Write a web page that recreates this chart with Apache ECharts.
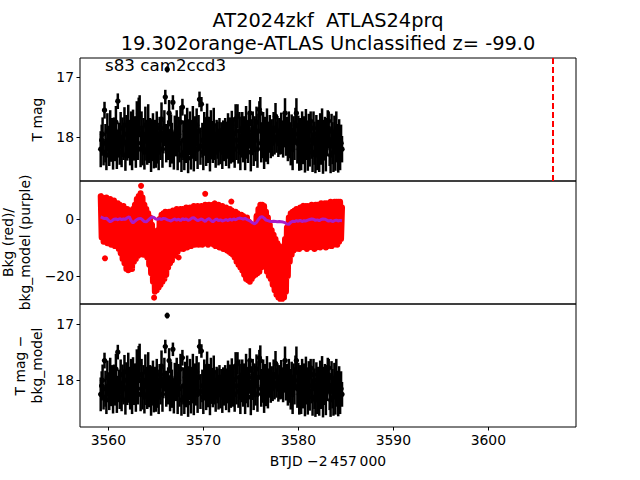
<!DOCTYPE html>
<html><head><meta charset="utf-8">
<script src="https://cdn.jsdelivr.net/npm/echarts@6/dist/echarts.min.js"></script>
<style>html,body{margin:0;padding:0;background:#fff}#c{width:640px;height:480px}</style>
</head><body><div id="c"></div>
<script>
// ---- data ----
const t0 = 3559.2, dt = 0.1;          // photometry cadence (days)
const modelT0 = 3559.2, modelDt = 0.2; // background-model cadence (days)
const discoveryT = 3606.78;
const xTicks = [3560, 3570, 3580, 3590, 3600];
const magTicks = [17, 18];
const bkgTicks = [-20, 0];

const magTop = [
18.20,18.05,17.95,18.25,17.55,18.10,18.30,17.90,18.05,18.20,
17.85,18.15,18.00,18.30,17.95,18.10,17.75,18.20,17.40,18.05,
18.15,17.85,18.25,18.00,18.10,17.80,18.30,17.95,18.15,17.75,
18.05,18.20,17.90,18.30,17.85,18.10,18.00,18.25,17.70,18.10,
17.60,17.65,18.20,17.85,18.15,17.95,18.25,17.80,18.05,18.20,
17.75,18.10,17.95,18.30,18.05,17.90,18.20,18.00,18.15,17.85,
18.10,18.25,17.95,18.05,17.70,18.20,18.00,17.85,17.33,18.10,
16.87,18.05,17.60,18.20,17.90,18.10,17.42,18.25,17.95,18.05,
17.85,18.20,17.95,18.10,17.75,18.30,17.50,18.05,18.25,17.90,
18.10,17.80,18.35,18.00,17.85,18.20,18.05,17.75,18.25,17.95,
18.10,17.80,18.20,17.90,17.37,18.15,17.45,18.05,18.25,17.85,
18.00,18.20,17.70,18.10,17.95,18.30,17.85,18.05,18.15,17.80,
18.10,18.25,17.95,18.05,18.20,17.90,18.15,18.00,18.25,17.95,
18.10,17.90,18.20,18.05,17.85,18.25,18.00,18.15,17.80,18.10,
17.95,18.20,17.70,18.05,17.65,18.15,17.90,18.25,18.00,17.85,
18.10,17.95,18.20,17.75,18.05,18.10,17.90,17.60,18.25,18.00,
17.85,18.15,17.95,18.05,17.75,18.20,17.90,17.54,17.60,18.10,
18.05,17.85,18.20,17.95,18.10,17.80,18.15,18.00,17.90,18.10,
17.95,18.10,17.85,18.05,17.65,18.00,17.90,18.10,17.95,18.05,
17.85,18.00,18.10,17.90,17.60,18.05,17.95,18.15,17.85,18.05,
18.15,17.90,18.20,17.95,18.05,17.80,17.60,18.10,17.95,18.20,
18.00,18.25,17.85,18.10,17.95,18.30,17.80,18.05,18.20,17.90,
18.15,17.73,18.05,18.25,17.85,18.10,18.30,17.95,18.20,18.00,
18.25,17.90,18.10,17.80,18.30,18.05,17.95,18.20,18.00,17.85,
17.73,18.15,18.30,17.90,18.10,18.25,17.95,18.20,17.85,18.10,
18.25,18.00,18.30,18.10,18.20];

const magCorr = [
18.25,18.10,18.00,18.30,17.65,18.15,18.35,17.95,18.10,18.25,
17.90,18.20,18.05,18.35,18.00,18.15,17.80,18.25,17.50,18.10,
18.20,17.90,18.30,18.05,18.15,17.85,18.35,18.00,18.20,17.80,
18.10,18.25,17.95,18.35,17.90,18.15,18.05,18.30,17.75,18.15,
17.65,17.70,18.25,17.90,18.20,18.00,18.30,17.85,18.10,18.25,
17.80,18.15,18.00,18.35,18.10,17.95,18.25,18.05,18.20,17.90,
18.15,18.30,18.00,18.10,17.75,18.25,18.05,17.90,17.40,18.15,
16.85,18.10,17.65,18.25,17.95,18.15,17.45,18.30,18.00,18.10,
17.90,18.25,18.00,18.15,17.80,18.35,17.60,18.10,18.30,17.95,
18.15,17.85,18.40,18.05,17.90,18.25,18.10,17.80,18.30,18.00,
18.15,17.85,18.25,17.95,17.40,18.20,17.48,18.10,18.30,17.90,
18.05,18.25,17.75,18.15,18.00,18.35,17.90,18.10,18.20,17.85,
18.15,18.30,18.00,18.10,18.25,17.95,18.20,18.05,18.30,18.00,
18.15,17.95,18.25,18.10,17.90,18.30,18.05,18.20,17.85,18.15,
18.00,18.25,17.75,18.10,17.70,18.20,17.95,18.30,18.05,17.90,
18.15,18.00,18.25,17.80,18.10,18.15,17.95,17.65,18.30,18.05,
17.90,18.20,18.00,18.10,17.80,18.25,17.95,17.60,17.65,18.15,
18.10,17.90,18.25,18.00,18.15,17.85,18.20,18.05,17.95,18.15,
18.00,18.15,17.90,18.10,17.70,18.05,17.95,18.15,18.00,18.10,
17.90,18.05,18.15,17.95,17.65,18.10,18.00,18.20,17.90,18.10,
18.20,17.95,18.25,18.00,18.10,17.85,17.65,18.15,18.00,18.25,
18.05,18.30,17.90,18.15,18.00,18.35,17.85,18.10,18.25,17.95,
18.20,17.78,18.10,18.30,17.90,18.15,18.35,18.00,18.25,18.05,
18.30,17.95,18.15,17.85,18.35,18.10,18.00,18.25,18.05,17.90,
17.78,18.20,18.35,17.95,18.15,18.30,18.00,18.25,17.90,18.15,
18.30,18.05,18.35,18.15,18.25];

const magErr = [
0.30,0.26,0.28,0.22,0.14,0.32,0.25,0.30,0.24,0.28,
0.30,0.26,0.32,0.24,0.28,0.30,0.27,0.33,0.13,0.29,
0.31,0.27,0.25,0.33,0.28,0.30,0.26,0.32,0.24,0.29,
0.30,0.27,0.33,0.25,0.31,0.29,0.35,0.26,0.30,0.28,
0.26,0.35,0.30,0.28,0.32,0.27,0.29,0.31,0.34,0.26,
0.30,0.33,0.27,0.28,0.35,0.30,0.32,0.29,0.36,0.28,
0.34,0.30,0.29,0.33,0.28,0.31,0.27,0.30,0.12,0.32,
0.05,0.33,0.22,0.30,0.28,0.34,0.12,0.29,0.31,0.27,
0.30,0.35,0.29,0.32,0.27,0.28,0.14,0.33,0.30,0.28,
0.33,0.29,0.25,0.30,0.28,0.34,0.31,0.27,0.32,0.30,
0.30,0.28,0.33,0.27,0.13,0.31,0.12,0.29,0.30,0.27,
0.31,0.28,0.26,0.33,0.29,0.27,0.30,0.32,0.28,0.29,
0.28,0.26,0.24,0.31,0.27,0.22,0.30,0.25,0.28,0.23,
0.30,0.22,0.28,0.31,0.25,0.27,0.33,0.29,0.24,0.32,
0.28,0.31,0.25,0.33,0.20,0.29,0.32,0.30,0.34,0.27,
0.32,0.30,0.35,0.27,0.31,0.33,0.29,0.22,0.32,0.30,
0.28,0.33,0.30,0.35,0.26,0.31,0.29,0.14,0.27,0.32,
0.30,0.27,0.33,0.29,0.31,0.28,0.30,0.26,0.27,0.25,
0.25,0.22,0.27,0.24,0.22,0.26,0.25,0.23,0.27,0.24,
0.26,0.28,0.24,0.27,0.25,0.26,0.29,0.25,0.28,0.30,
0.32,0.28,0.35,0.30,0.33,0.29,0.25,0.34,0.31,0.36,
0.32,0.30,0.28,0.35,0.30,0.29,0.27,0.33,0.36,0.29,
0.34,0.16,0.31,0.33,0.28,0.36,0.30,0.32,0.35,0.29,
0.33,0.30,0.36,0.28,0.31,0.34,0.29,0.37,0.32,0.30,
0.16,0.33,0.30,0.29,0.35,0.33,0.31,0.36,0.28,0.32,
0.34,0.30,0.25,0.31,0.22];

const bkg = [
8.0,-6.5,7.5,-8.0,7.0,-7.5,7.5,-8.5,6.5,-8.0,
7.0,-9.0,6.0,-8.5,6.5,-9.5,5.5,-9.0,5.5,-10.5,
5.0,-12.0,4.5,-14.0,4.5,-15.5,3.5,-17.5,3.5,-18.0,
3.0,-17.0,3.0,-17.5,3.5,-15.0,5.0,-14.0,7.0,-13.0,
8.0,-12.5,9.0,-12.0,7.5,-12.5,5.0,-12.0,3.5,-13.5,
2.0,-16.0,0.5,-19.0,-2.0,-22.0,-5.0,-25.5,-7.5,-25.0,
-4.0,-24.0,0.0,-23.0,1.5,-22.0,2.0,-21.0,2.5,-19.5,
2.0,-17.0,2.5,-15.5,2.5,-14.5,3.0,-13.0,3.0,-12.0,
3.5,-11.5,3.0,-10.5,3.5,-10.0,3.5,-10.5,3.5,-9.5,
4.0,-10.0,3.5,-9.0,4.0,-9.5,4.0,-9.0,4.5,-9.0,
4.0,-8.5,4.5,-9.0,4.0,-8.5,4.5,-9.0,4.5,-8.0,
5.0,-8.5,4.5,-9.0,5.0,-8.5,4.5,-8.0,5.0,-9.0,
5.0,-9.5,4.5,-9.5,5.0,-10.0,4.5,-10.0,4.5,-10.5,
4.0,-10.0,4.0,-11.0,3.5,-11.5,3.5,-12.0,3.0,-12.5,
2.5,-13.5,2.5,-15.0,2.0,-16.0,1.5,-17.0,1.5,-18.0,
1.0,-19.5,0.5,-21.0,0.5,-21.5,-1.0,-22.0,-2.5,-21.0,
-4.0,-20.0,-3.0,-19.5,1.0,-19.0,3.5,-18.5,5.0,-17.0,
5.0,-15.5,4.5,-16.5,2.5,-18.5,0.5,-20.0,-2.0,-21.0,
-4.0,-23.0,-5.5,-25.0,-7.0,-26.5,-8.5,-27.5,-9.5,-28.0,
-10.5,-28.0,-10.0,-27.5,-7.0,-25.5,-3.0,-20.0,0.5,-15.0,
2.0,-12.5,2.5,-11.0,3.0,-10.5,3.5,-10.0,3.5,-10.5,
4.0,-10.0,4.0,-9.5,4.0,-10.0,4.5,-10.5,4.5,-10.0,
4.5,-9.5,5.0,-10.0,4.5,-10.5,5.0,-10.0,5.0,-9.5,
5.0,-10.0,5.5,-9.5,5.0,-9.0,5.5,-10.0,5.5,-9.5,
5.5,-9.0,6.0,-9.5,5.5,-9.0,6.0,-8.5,6.0,-9.0,
6.0,-8.0,6.0,-7.0,4.0];

const bkgOutT = [3559.65, 3563.45, 3564.82, 3567.40, 3570.20, 3571.20, 3572.95, 3580.50];
const bkgOutV = [-13.8, 11.6, -27.6, -13.5, 8.8, 5.5, 6.1, 4.6];

const bkgModel = [
0.7,0.4,0.1,0.3,-0.4,-1.0,-0.6,-0.1,0.0,-0.3,
0.1,-0.2,0.0,-0.1,0.4,0.8,-0.6,-1.4,-0.8,-0.2,
0.1,0.2,-0.3,-0.9,-1.0,-0.4,0.2,0.7,0.5,0.0,
-0.1,0.1,-0.2,0.2,0.1,-0.3,-0.5,-0.7,-0.3,0.0,
-0.4,-0.1,-0.6,0.1,-0.2,0.0,-0.5,-0.2,0.3,0.4,
-0.1,-0.6,-0.3,0.0,-0.4,-0.9,-0.2,0.1,-0.5,-1.0,
-0.4,0.0,-0.6,-0.3,-0.7,-0.5,-0.2,-0.6,-0.1,-0.4,
0.0,-0.3,0.1,0.3,0.2,-0.1,0.2,-0.2,-0.5,-0.9,
-1.4,-1.7,-1.2,-0.2,0.6,0.8,0.3,-0.4,-0.6,-0.8,
-0.9,-0.8,-0.9,-1.0,-0.9,-1.0,-1.1,-1.3,-1.8,-1.9,
-1.2,-0.8,-0.9,-0.6,-0.8,-0.5,-0.9,-0.6,-0.7,-0.4,
-0.2,0.0,-0.1,-0.5,-0.3,-0.6,-0.2,0.0,-0.1,-0.4,
-0.8,-0.5,-0.9,-0.6,-0.4,-0.7,-0.5,-0.6];

// ---- build ----
const tAt = i => +(t0 + dt * i).toFixed(3);
const topRows = magTop.map((m, i) => [tAt(i), m, magErr[i]]);
const corrRows = magCorr.map((m, i) => [tAt(i), m, magErr[i]]);
const bkgRows = bkg.map((v, i) => [tAt(i), v]);
const modelRows = bkgModel.map((v, i) => [+(modelT0 + modelDt * i).toFixed(3), v]);
const outRows = bkgOutT.map((t, i) => [t, bkgOutV[i]]);

const FONT = 'DejaVu Sans';
const xMin = 3557.02, xMax = 3609.23;
const minus = v => String(v).replace('-', '\u2212');

function errItem(params, api) {
  const t = api.value(0), m = api.value(1), e = api.value(2);
  const a = api.coord([t, m - e]), b = api.coord([t, m + e]), c = api.coord([t, m]);
  return { type: 'group', children: [
    { type: 'line', shape: { x1: a[0], y1: a[1], x2: b[0], y2: b[1] }, style: { stroke: '#000', lineWidth: 2.5 } },
    { type: 'circle', shape: { cx: c[0], cy: c[1], r: 2.7 }, style: { fill: '#000' } }
  ]};
}

const grids = [
  { left: 80, right: 64, top: 58, height: 123 },
  { left: 80, right: 64, top: 181, height: 123 },
  { left: 80, right: 64, top: 304, height: 123 }
].map(g => Object.assign(g, { show: true, borderColor: '#000', borderWidth: 1, backgroundColor: 'transparent',
  containLabel: false, outerBoundsMode: 'none' }));

const xAxes = [0, 1, 2].map(k => ({
  type: 'value', gridIndex: k, min: xMin, max: xMax,
  axisLine: { show: false }, splitLine: { show: false },
  axisTick: { show: k === 2, customValues: xTicks, length: 3.5, lineStyle: { color: '#000', width: 1 } },
  axisLabel: { show: k === 2, customValues: xTicks, margin: 6, color: '#000', fontFamily: FONT, fontSize: 13.9, formatter: v => String(v) },
  name: k === 2 ? 'BTJD \u22122\u2009457\u2009000' : '', nameLocation: 'middle', nameGap: 27,
  nameTextStyle: { color: '#000', fontFamily: FONT, fontSize: 13.9 }
}));

function yAx(k, min, max, ticks, inverse, name, gap) {
  return {
    type: 'value', gridIndex: k, min, max, inverse,
    axisLine: { show: false }, splitLine: { show: false },
    axisTick: { show: true, customValues: ticks, length: 3.5, lineStyle: { color: '#000', width: 1 } },
    axisLabel: { customValues: ticks, margin: 6, color: '#000', fontFamily: FONT, fontSize: 13.9, formatter: minus },
    name, nameLocation: 'middle', nameRotate: 90, nameGap: gap,
    nameTextStyle: { color: '#000', fontFamily: FONT, fontSize: 13.9, align: 'center', lineHeight: 17 }
  };
}
const yAxes = [
  yAx(0, 16.68, 18.73, magTicks, true, 'T mag', 34),
  yAx(1, -29.8, 13.3, bkgTicks, false, 'Bkg (red)/\nbkg_model (purple)', 43),
  yAx(2, 16.645, 18.83, magTicks, true, 'T mag \u2212\nbkg_model', 33)
];

const chart = echarts.init(document.getElementById('c'), null, { renderer: 'svg', width: 640, height: 480 });
chart.setOption({
  animation: false,
  backgroundColor: '#fff',
  grid: grids, xAxis: xAxes, yAxis: yAxes,
  graphic: [
    { type: 'text', x: 328, y: 20, style: { text: 'AT2024zkf  ATLAS24prq', font: '19.4px "DejaVu Sans"', fill: '#000', align: 'center', verticalAlign: 'middle', textAlign: 'center', textVerticalAlign: 'middle' } },
    { type: 'text', x: 328, y: 43, style: { text: '19.302orange-ATLAS Unclassified z= -99.0', font: '19.4px "DejaVu Sans"', fill: '#000', align: 'center', verticalAlign: 'middle', textAlign: 'center', textVerticalAlign: 'middle' } },
    { type: 'text', x: 105, y: 65, z: 100, style: { text: 's83 cam2ccd3', font: '16.7px "DejaVu Sans"', fill: '#000', align: 'left', verticalAlign: 'middle', textAlign: 'left', textVerticalAlign: 'middle' } }
  ],
  series: [
    { type: 'custom', xAxisIndex: 0, yAxisIndex: 0, data: topRows, renderItem: errItem, clip: true,
      encode: { x: 0, y: 1 }, silent: true,
      markLine: { silent: true, symbol: ['none', 'none'], label: { show: false },
        lineStyle: { color: '#ff0000', type: [6, 3], width: 2 }, data: [{ xAxis: discoveryT }] } },
    { type: 'line', xAxisIndex: 1, yAxisIndex: 1, data: bkgRows, symbol: 'none', clip: true, silent: true,
      lineStyle: { color: '#ff0000', width: 6, cap: 'round', join: 'round' } },
    { type: 'scatter', xAxisIndex: 1, yAxisIndex: 1, data: outRows, symbolSize: 6, silent: true,
      itemStyle: { color: '#ff0000', opacity: 1 } },
    { type: 'line', xAxisIndex: 1, yAxisIndex: 1, data: modelRows, symbol: 'none', clip: true, silent: true,
      lineStyle: { color: '#a81cc8', width: 3 } },
    { type: 'custom', xAxisIndex: 2, yAxisIndex: 2, data: corrRows, renderItem: errItem, clip: true,
      encode: { x: 0, y: 1 }, silent: true }
  ]
});
</script></body></html>
